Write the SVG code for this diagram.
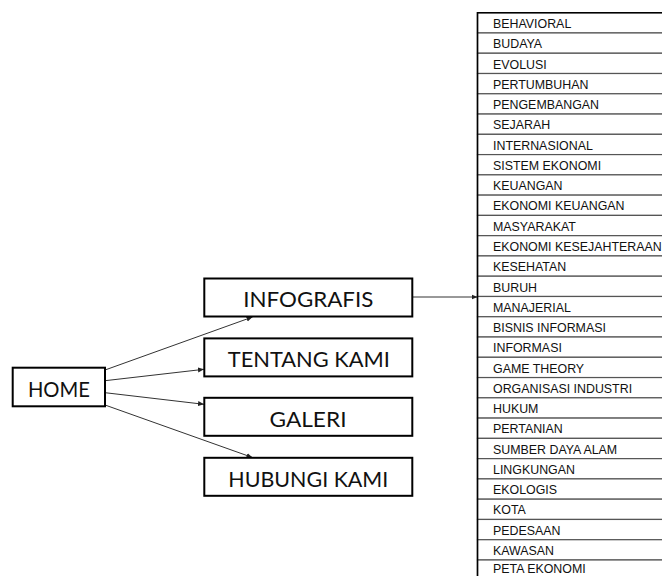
<svg xmlns="http://www.w3.org/2000/svg" width="662" height="576" viewBox="0 0 662 576">
<style>
.box{fill:#fff;stroke:#000;stroke-width:2}
.lbl{font-family:Lato,"Open Sans","DejaVu Sans",sans-serif;font-size:21px;fill:#111;text-anchor:middle}
.row{fill:#fff;stroke:#555;stroke-width:1.2}
.it{font-family:"Liberation Sans",Arial,sans-serif;font-size:12.4px;fill:#111}
.edge{stroke:#333;stroke-width:1;fill:none;marker-end:url(#ah)}
</style>
<defs>
<marker id="ah" markerUnits="userSpaceOnUse" markerWidth="7" markerHeight="6" refX="6" refY="3" orient="auto">
<path d="M0,0.5 L6,3 L0,5.5 Z" fill="#222"/>
</marker>
</defs>
<rect width="662" height="576" fill="#fff"/>
<g id="connectors">
<line class="edge" x1="105" y1="370" x2="252.5" y2="317"/>
<line class="edge" x1="105" y1="380.7" x2="204" y2="369.3"/>
<line class="edge" x1="105" y1="392.7" x2="204" y2="404.3"/>
<line class="edge" x1="105" y1="405" x2="252.5" y2="457.5"/>
<line class="edge" x1="412.5" y1="297" x2="477.5" y2="297"/>
</g>
<g id="home"><rect class="box" x="12.7" y="367.7" width="92.3" height="38.6"/><text class="lbl" x="58.9" y="397.3" textLength="62" lengthAdjust="spacingAndGlyphs">HOME</text></g>
<g id="infografis"><rect class="box" x="204.3" y="278.5" width="208" height="38"/><text class="lbl" x="308.3" y="306.9" textLength="130" lengthAdjust="spacingAndGlyphs">INFOGRAFIS</text></g>
<g id="tentang-kami"><rect class="box" x="204.3" y="338.4" width="208" height="38"/><text class="lbl" x="308.8" y="367.3" textLength="162" lengthAdjust="spacingAndGlyphs">TENTANG KAMI</text></g>
<g id="galeri"><rect class="box" x="204.3" y="397.8" width="208" height="38"/><text class="lbl" x="308" y="426.7" textLength="77" lengthAdjust="spacingAndGlyphs">GALERI</text></g>
<g id="hubungi-kami"><rect class="box" x="204.3" y="457.8" width="208" height="38"/><text class="lbl" x="308.3" y="486.7" textLength="160" lengthAdjust="spacingAndGlyphs">HUBUNGI KAMI</text></g>
<g id="list">
<g id="r0"><rect class="row" x="477.5" y="12.7" width="200" height="20.27"/><text class="it" x="493" y="28">BEHAVIORAL</text></g>
<g id="r1"><rect class="row" x="477.5" y="32.97" width="200" height="20.27"/><text class="it" x="493" y="48.27">BUDAYA</text></g>
<g id="r2"><rect class="row" x="477.5" y="53.24" width="200" height="20.27"/><text class="it" x="493" y="68.54">EVOLUSI</text></g>
<g id="r3"><rect class="row" x="477.5" y="73.51" width="200" height="20.27"/><text class="it" x="493" y="88.81">PERTUMBUHAN</text></g>
<g id="r4"><rect class="row" x="477.5" y="93.78" width="200" height="20.27"/><text class="it" x="493" y="109.08">PENGEMBANGAN</text></g>
<g id="r5"><rect class="row" x="477.5" y="114.05" width="200" height="20.27"/><text class="it" x="493" y="129.35">SEJARAH</text></g>
<g id="r6"><rect class="row" x="477.5" y="134.32" width="200" height="20.27"/><text class="it" x="493" y="149.62">INTERNASIONAL</text></g>
<g id="r7"><rect class="row" x="477.5" y="154.59" width="200" height="20.27"/><text class="it" x="493" y="169.89">SISTEM EKONOMI</text></g>
<g id="r8"><rect class="row" x="477.5" y="174.86" width="200" height="20.27"/><text class="it" x="493" y="190.16">KEUANGAN</text></g>
<g id="r9"><rect class="row" x="477.5" y="195.13" width="200" height="20.27"/><text class="it" x="493" y="210.43">EKONOMI KEUANGAN</text></g>
<g id="r10"><rect class="row" x="477.5" y="215.4" width="200" height="20.27"/><text class="it" x="493" y="230.7">MASYARAKAT</text></g>
<g id="r11"><rect class="row" x="477.5" y="235.67" width="200" height="20.27"/><text class="it" x="493" y="250.97">EKONOMI KESEJAHTERAAN</text></g>
<g id="r12"><rect class="row" x="477.5" y="255.94" width="200" height="20.27"/><text class="it" x="493" y="271.24">KESEHATAN</text></g>
<g id="r13"><rect class="row" x="477.5" y="276.21" width="200" height="20.27"/><text class="it" x="493" y="291.51">BURUH</text></g>
<g id="r14"><rect class="row" x="477.5" y="296.48" width="200" height="20.27"/><text class="it" x="493" y="311.78">MANAJERIAL</text></g>
<g id="r15"><rect class="row" x="477.5" y="316.75" width="200" height="20.27"/><text class="it" x="493" y="332.05">BISNIS INFORMASI</text></g>
<g id="r16"><rect class="row" x="477.5" y="337.02" width="200" height="20.27"/><text class="it" x="493" y="352.32">INFORMASI</text></g>
<g id="r17"><rect class="row" x="477.5" y="357.29" width="200" height="20.27"/><text class="it" x="493" y="372.59">GAME THEORY</text></g>
<g id="r18"><rect class="row" x="477.5" y="377.56" width="200" height="20.27"/><text class="it" x="493" y="392.86">ORGANISASI INDUSTRI</text></g>
<g id="r19"><rect class="row" x="477.5" y="397.83" width="200" height="20.27"/><text class="it" x="493" y="413.13">HUKUM</text></g>
<g id="r20"><rect class="row" x="477.5" y="418.1" width="200" height="20.27"/><text class="it" x="493" y="433.4">PERTANIAN</text></g>
<g id="r21"><rect class="row" x="477.5" y="438.37" width="200" height="20.27"/><text class="it" x="493" y="453.67">SUMBER DAYA ALAM</text></g>
<g id="r22"><rect class="row" x="477.5" y="458.64" width="200" height="20.27"/><text class="it" x="493" y="473.94">LINGKUNGAN</text></g>
<g id="r23"><rect class="row" x="477.5" y="478.91" width="200" height="20.27"/><text class="it" x="493" y="494.21">EKOLOGIS</text></g>
<g id="r24"><rect class="row" x="477.5" y="499.18" width="200" height="20.27"/><text class="it" x="493" y="514.48">KOTA</text></g>
<g id="r25"><rect class="row" x="477.5" y="519.45" width="200" height="20.27"/><text class="it" x="493" y="534.75">PEDESAAN</text></g>
<g id="r26"><rect class="row" x="477.5" y="539.72" width="200" height="20.27"/><text class="it" x="493" y="555.02">KAWASAN</text></g>
<g id="r27"><rect class="row" x="477.5" y="559.99" width="200" height="20.27"/><text class="it" x="493" y="573.3">PETA EKONOMI</text></g>
<path d="M477.5,582 V12.7 H662" fill="none" stroke="#000" stroke-width="1.6"/>
</g>
</svg>
